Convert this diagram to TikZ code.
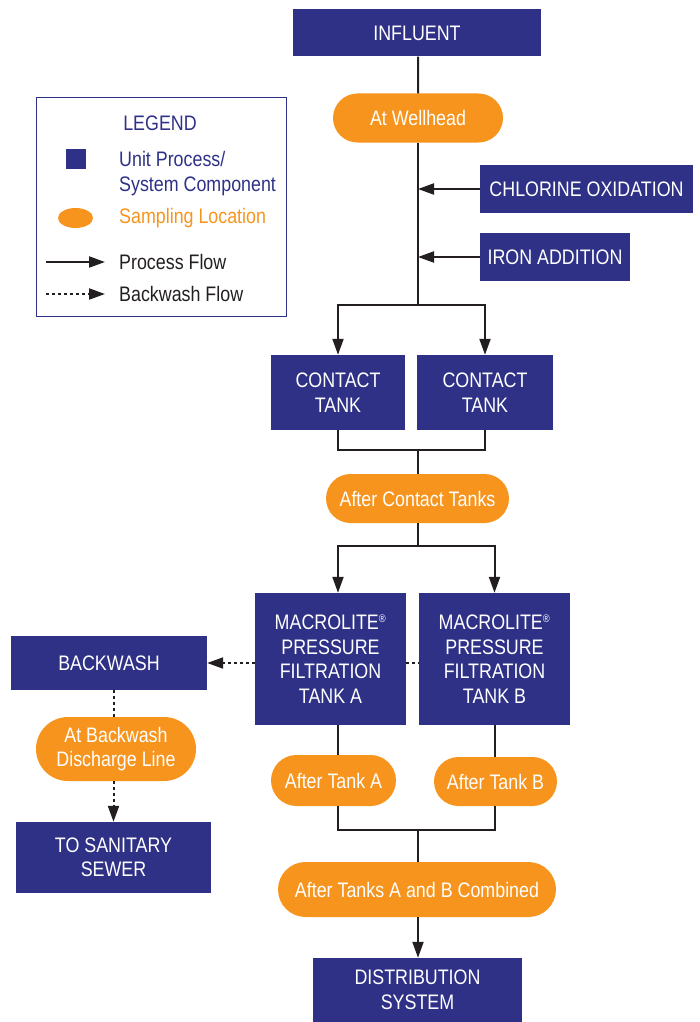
\documentclass[tikz,border=0pt]{standalone}
\usepackage{fontspec}
\setmainfont{Liberation Sans}[FakeStretch=0.85]
\usetikzlibrary{arrows.meta,shapes.misc,shapes.geometric}
\definecolor{navy}{RGB}{46,49,134}
\definecolor{amber}{RGB}{247,148,29}
\definecolor{ink}{RGB}{35,31,32}
\newcommand{\regmark}{\textsuperscript{\fontsize{11}{11}\selectfont ®}}

\begin{document}
\begin{tikzpicture}[x=1pt, y=-1pt,
  font=\fontsize{21}{24.5}\selectfont,
  unit/.style={rectangle, fill=navy, text=white, align=center, inner sep=0pt},
  sample/.style={rounded rectangle, fill=amber, text=white, align=center, inner sep=0pt},
  flow/.style={line width=2pt, ink},
  wash/.style={flow, dash pattern=on 3pt off 3pt},
  tip/.style={-{Triangle[length=16pt, width=11pt]}}]
  \useasboundingbox (0,0) rectangle (699,1022);

  % legend
  \node[draw=navy, line width=1pt, minimum width=250, minimum height=218] (legend) at (161,207) {};
  \node[text=navy] (legendtitle) at (160,123) {LEGEND};
  \node[fill=navy, minimum size=20, inner sep=0pt] (keyunit) at (76,158.5) {};
  \node[text=navy, align=left, anchor=west, inner sep=0pt] (keyunittext) at (119,173.5) {Unit Process/\\System Component};
  \node[ellipse, fill=amber, minimum width=35, minimum height=20, inner sep=0pt] (keysample) at (75.5,218) {};
  \node[text=amber, anchor=west, inner sep=0pt] (keysampletext) at (119,218) {Sampling Location};
  \coordinate (keyflowa) at (46,262);
  \coordinate (keyflowb) at (105,262);
  \draw[flow, tip] (keyflowa) -- (keyflowb);
  \node[text=ink, anchor=west, inner sep=0pt] (keyflowtext) at (119,262) {Process Flow};
  \coordinate (keywasha) at (46,294);
  \coordinate (keywashb) at (105,294);
  \draw[wash, tip] (keywasha) -- (keywashb);
  \node[text=ink, anchor=west, inner sep=0pt] (keywashtext) at (119,294) {Backwash Flow};

  % main line
  \node[unit, minimum width=248, minimum height=47] (influent) at (417,33) {INFLUENT};
  \node[sample, minimum width=170, minimum height=49] (wellhead) at (418,118) {At Wellhead};
  \draw[flow] (influent.south -| wellhead) -- (wellhead);

  \node[unit, minimum width=213, minimum height=48] (chlorine) at (586.5,189) {CHLORINE OXIDATION};
  \node[unit, minimum width=150, minimum height=48] (iron) at (555,257) {IRON ADDITION};
  \coordinate (split1) at (418,305);
  \draw[flow] (wellhead) -- (split1);
  \draw[flow, tip] (chlorine) -- (chlorine -| split1);
  \draw[flow, tip] (iron) -- (iron -| split1);

  \node[unit, minimum width=134, minimum height=75] (contacta) at (338,392.5) {CONTACT\\TANK};
  \node[unit, minimum width=136, minimum height=75] (contactb) at (485,392.5) {CONTACT\\TANK};
  \draw[flow, tip] (split1) -| (contacta);
  \draw[flow, tip] (split1) -| (contactb);

  \node[sample, minimum width=183, minimum height=49] (aftercontact) at (417.5,498.5) {After Contact Tanks};
  \coordinate (merge1) at (418,450);
  \draw[flow] (contacta) |- (merge1);
  \draw[flow] (contactb) |- (merge1);
  \draw[flow] (merge1) -- (aftercontact.north -| merge1);

  \node[unit, minimum width=151, minimum height=132] (filtera) at (330.5,659) {MACROLITE\regmark\\PRESSURE\\FILTRATION\\TANK A};
  \node[unit, minimum width=151, minimum height=132] (filterb) at (494.5,659) {MACROLITE\regmark\\PRESSURE\\FILTRATION\\TANK B};
  \coordinate (split2) at (418,546);
  \draw[flow] (aftercontact.south -| split2) -- (split2);
  \draw[flow, tip] (split2) -| (contacta |- filtera.north);
  \draw[flow, tip] (split2) -| (filterb);

  % backwash
  \node[unit, minimum width=196, minimum height=54] (backwash) at (109,663) {BACKWASH};
  \node[sample, minimum width=160, minimum height=64] (discharge) at (116,749) {At Backwash\\Discharge Line};
  \node[unit, minimum width=195, minimum height=71] (sewer) at (113.5,857.5) {TO SANITARY\\SEWER};
  \draw[wash, tip] (filtera.west |- backwash) -- (backwash.east);
  \draw[wash] (filtera.east |- backwash) -- (filterb.west |- backwash);
  \draw[wash] (backwash.south -| sewer) -- (discharge.north -| sewer);
  \draw[wash, tip] (discharge.south -| sewer) -- (sewer.north);

  % after filters
  \node[sample, minimum width=125, minimum height=51] (aftera) at (333.5,780.5) {After Tank A};
  \node[sample, minimum width=123, minimum height=49] (afterb) at (495.5,781.5) {After Tank B};
  \draw[flow] (contacta |- filtera.south) -- (contacta |- aftera.north);
  \draw[flow] (filterb.south) -- (filterb.south |- afterb.north);

  \node[sample, minimum width=278, minimum height=55] (combined) at (417,889.5) {After Tanks A and B Combined};
  \node[unit, minimum width=209, minimum height=64] (distribution) at (417.5,990) {DISTRIBUTION\\SYSTEM};
  \coordinate (merge2) at (418,830);
  \draw[flow] (aftera.south -| contacta) |- (merge2);
  \draw[flow] (afterb.south -| filterb) |- (merge2);
  \draw[flow] (merge2) -- (combined.north -| merge2);
  \draw[flow, tip] (combined.south -| merge2) -- (distribution.north -| merge2);

\end{tikzpicture}
\end{document}
